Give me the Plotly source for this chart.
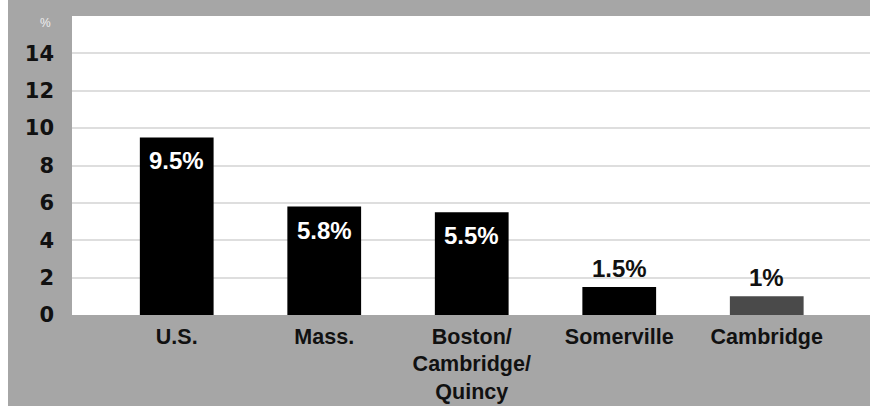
import plotly.graph_objects as go

categories = ["U.S.", "Mass.", "Boston/<br>Cambridge/<br>Quincy", "Somerville", "Cambridge"]
values = [9.5, 5.8, 5.5, 1.5, 1.0]
labels = ["9.5%", "5.8%", "5.5%", "1.5%", "1%"]
bar_colors = ["#000000", "#000000", "#000000", "#000000", "#4a4a4a"]
label_inside = [True, True, True, False, False]
y_ticks = [0, 2, 4, 6, 8, 10, 12, 14]

FONT = "Liberation Sans, Arial, sans-serif"
NUMFONT = "DejaVu Sans, Arial, sans-serif"

xs = list(range(len(categories)))

fig = go.Figure(go.Bar(
    x=xs,
    y=values,
    marker=dict(color=bar_colors, line=dict(width=0)),
    width=0.5,
    hoverinfo="x+y",
))

annotations = []
for x, v, lab, inside in zip(xs, values, labels, label_inside):
    annotations.append(dict(
        x=x, y=v, xref="x", yref="y", text=lab, showarrow=False,
        yanchor="top" if inside else "bottom",
        yshift=-8 if inside else 3,
        font=dict(size=24, family=FONT, weight="bold",
                  color="#ffffff" if inside else "#111111"),
    ))
annotations.append(dict(text="%", xref="paper", yref="paper",
                        x=-27/798, y=1 - 7/299, xanchor="center", yanchor="middle",
                        showarrow=False,
                        font=dict(size=12, color="#eeeeee", family=FONT)))

fig.update_layout(
    width=870, height=406,
    margin=dict(l=72, r=0, t=16, b=91),
    paper_bgcolor="#a6a6a6",
    plot_bgcolor="#ffffff",
    showlegend=False,
    font=dict(family=FONT, color="#111111"),
    xaxis=dict(
        tickmode="array",
        tickvals=xs,
        ticktext=categories,
        range=[-0.71, 4.70],
        showgrid=False, zeroline=False, showline=False,
        tickfont=dict(size=21.5, family=FONT, weight="bold", color="#111111"),
        ticklabelstandoff=6,
        ticks="",
        automargin=False,
    ),
    yaxis=dict(
        range=[0, 16],
        tickvals=y_ticks,
        showgrid=True, gridcolor="#dedede", gridwidth=2,
        zeroline=False, showline=False,
        tickfont=dict(size=21, family=NUMFONT, weight="bold", color="#111111"),
        ticklabelstandoff=17,
        ticks="",
        automargin=False,
    ),
    shapes=[dict(type="rect", xref="paper", yref="paper",
                 x0=-72/798, x1=-64/798, y0=-91/299, y1=1 + 16/299,
                 fillcolor="#ffffff", line=dict(width=0), layer="above")],
    annotations=annotations,
)

fig.write_html("out.html")
